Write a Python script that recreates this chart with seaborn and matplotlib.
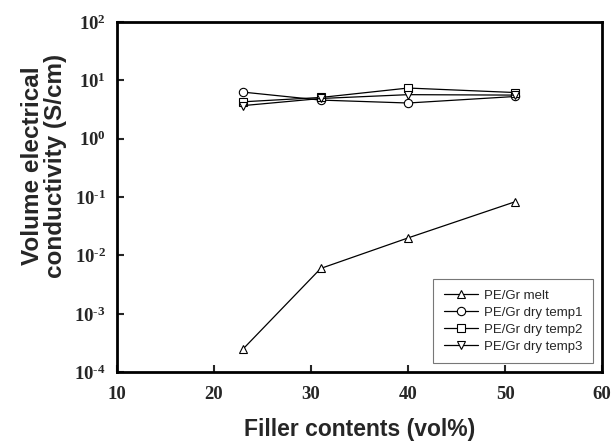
import math
import matplotlib
matplotlib.use("Agg")
import matplotlib.pyplot as plt
import seaborn as sns
import pandas as pd
from matplotlib.ticker import FixedLocator, FuncFormatter, NullLocator

# Data
filler = [23, 31, 40, 51]
melt = [2.5e-4, 6.0e-3, 2.0e-2, 8.3e-2]
dry_temp1 = [6.3, 4.6, 4.1, 5.3]
dry_temp2 = [4.3, 5.1, 7.4, 6.2]
dry_temp3 = [3.7, 4.9, 5.7, 5.6]
series_names = ["PE/Gr melt", "PE/Gr dry temp1", "PE/Gr dry temp2", "PE/Gr dry temp3"]
series_values = [melt, dry_temp1, dry_temp2, dry_temp3]
markers = ["^", "o", "s", "v"]
x_ticks = [10, 20, 30, 40, 50, 60]
y_exponents = [-4, -3, -2, -1, 0, 1, 2]

sns.set_style("ticks")
plt.rcParams["mathtext.fontset"] = "custom"
plt.rcParams["mathtext.rm"] = "Liberation Serif:bold"
plt.rcParams["mathtext.bf"] = "Liberation Serif:bold"
plt.rcParams["mathtext.default"] = "rm"

fig = plt.figure(figsize=(6.12, 4.41), dpi=100)
ax = fig.add_axes([0.191, 0.156, 0.793, 0.794])

for name, vals, m in zip(series_names, series_values, markers):
    df = pd.DataFrame({"x": filler, "y": vals})
    sns.lineplot(data=df, x="x", y="y", ax=ax, color="black", lw=0.9,
                 marker=m, markersize=6, markerfacecolor="white",
                 markeredgecolor="black", markeredgewidth=0.8, label=name)

ax.set_yscale("log")
ax.set_xlim(10, 60)
ax.set_ylim(1e-4, 1e2)
ax.xaxis.set_major_locator(FixedLocator(x_ticks))
ax.yaxis.set_major_locator(FixedLocator([10.0 ** e for e in y_exponents]))
ax.yaxis.set_minor_locator(NullLocator())
ax.xaxis.set_minor_locator(NullLocator())
ax.yaxis.set_major_formatter(FuncFormatter(lambda v, p: r"$10^{\text{%d}}$" % round(math.log10(v))))
ax.xaxis.set_major_formatter(FuncFormatter(lambda v, p: "%d" % v))
ax.tick_params(axis="both", direction="in", length=5, width=1.5, labelsize=13.5, pad=8)
ax.tick_params(axis="x", pad=10)
for t in ax.get_xticklabels():
    t.set_fontfamily("Liberation Serif")
    t.set_fontweight("bold")
ax.tick_params(top=False, right=False)
for s in ax.spines.values():
    s.set_linewidth(2)
    s.set_color("black")

ax.set_xlabel("Filler contents (vol%)", fontfamily="Liberation Sans", fontweight="bold",
              fontsize=16.5, labelpad=11)
ax.set_ylabel("Volume electrical\nconductivity (S/cm)", fontfamily="Liberation Sans",
              fontweight="bold", fontsize=17.5, linespacing=1.0)
ax.yaxis.set_label_coords(-0.103, 0.59)

leg = ax.legend(loc="lower right", bbox_to_anchor=(0.982, 0.026), borderaxespad=0,
                frameon=True, fancybox=False,
                prop={"family": "Liberation Sans", "size": 9.5}, handlelength=2.6,
                borderpad=0.8, labelspacing=0.35, handletextpad=0.5)
leg.get_frame().set_edgecolor("#555555")
leg.get_frame().set_linewidth(0.8)

fig.savefig("out.png", dpi=100)
